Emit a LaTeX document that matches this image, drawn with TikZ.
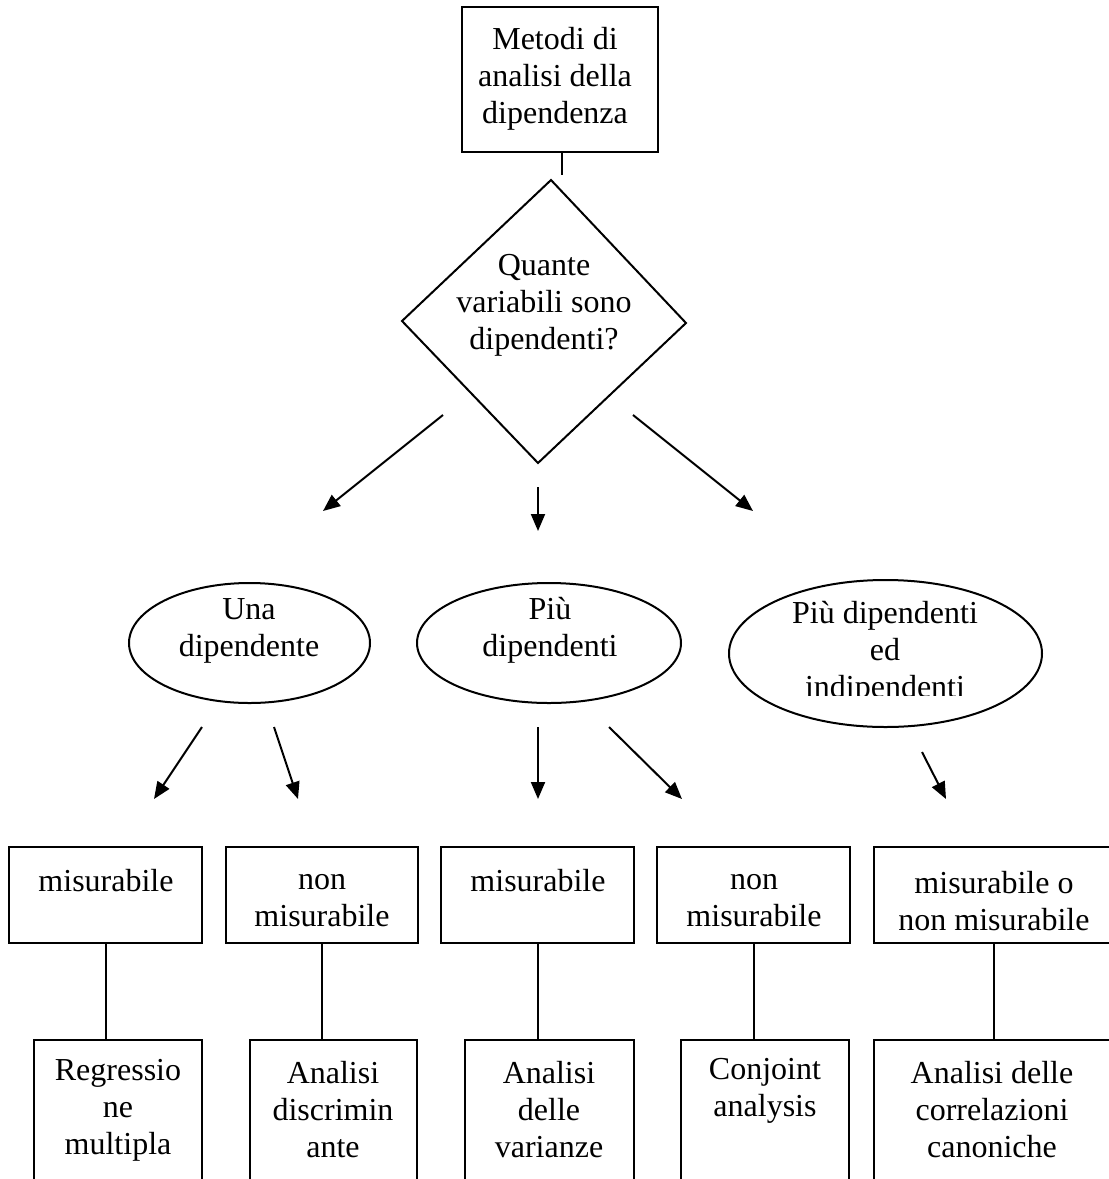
\documentclass[tikz,border=0pt]{standalone}
\usepackage{fontspec}
\setmainfont{Liberation Serif}
\usetikzlibrary{arrows.meta,shapes.geometric}
\begin{document}
\begin{tikzpicture}[x=1pt,y=-1pt,
  every node/.style={font=\fontsize{32}{37}\selectfont, inner sep=0pt},
  line/.style={line width=2pt},
  frame/.style={draw, line width=2pt, rectangle, inner sep=0pt},
  oval/.style={draw, line width=2pt, ellipse, inner sep=0pt},
  txt/.style={align=center},
  arr/.style={line width=2pt, -{Triangle[length=17pt,width=14pt]}}]
\useasboundingbox (0,0) rectangle (1109,1179);

% top box
\node[frame, minimum width=196, minimum height=145] (top) at (560,79.5) {};
\node[txt] (ttop) at (555,79) {Metodi di\\analisi della\\dipendenza};
\coordinate (tl) at (562,175);
\draw[line] (top.south -| tl) -- (tl);

% decision diamond
\coordinate (dT) at (551,180);
\coordinate (dR) at (686,323);
\coordinate (dB) at (538,463);
\coordinate (dL) at (402,321);
\draw[line, line join=miter] (dT) -- (dR) -- (dB) -- (dL) -- cycle;
\node[txt] (tq) at (544,305) {Quante\\variabili sono\\dipendenti?};

% arrows below the diamond
\coordinate (a1s) at (443,415); \coordinate (a1e) at (323,511);
\coordinate (a2s) at (538,487); \coordinate (a2e) at (538,531);
\coordinate (a3s) at (633,415); \coordinate (a3e) at (753,511);
\draw[arr] (a1s) -- (a1e);
\draw[arr] (a2s) -- (a2e);
\draw[arr] (a3s) -- (a3e);

% ellipses
\node[oval, minimum width=241, minimum height=120] (e1) at (249.5,643) {};
\node[txt] (te1) at (249,630.5) {Una\\dipendente};
\node[oval, minimum width=264, minimum height=120] (e2) at (549,643) {};
\node[txt] (te2) at (550,630.5) {Più\\dipendenti};
\node[oval, minimum width=313, minimum height=147] (e3) at (885.5,653.5) {};
\begin{scope}
  \clip (700,570) rectangle (1070,695);
  \node[txt] (te3) at (885,653) {Più dipendenti\\ed\\indipendenti};
\end{scope}

% arrows below the ellipses
\coordinate (b1s) at (202,727); \coordinate (b1e) at (154,799);
\coordinate (b2s) at (274,727); \coordinate (b2e) at (298,799);
\coordinate (b3s) at (538,727); \coordinate (b3e) at (538,799);
\coordinate (b4s) at (609,727); \coordinate (b4e) at (682,799);
\coordinate (b5s) at (922,752); \coordinate (b5e) at (946,799);
\foreach \i in {1,...,5} {\draw[arr] (b\i s) -- (b\i e);}

% first row of boxes
\node[frame, minimum width=193, minimum height=96] (B1) at (105.5,895) {};
\node[frame, minimum width=192, minimum height=96] (B2) at (322,895) {};
\node[frame, minimum width=193, minimum height=96] (B3) at (537.5,895) {};
\node[frame, minimum width=193, minimum height=96] (B4) at (753.5,895) {};
\node[frame, minimum width=240, minimum height=96] (B5) at (994,895) {};
\node (tB1) at (106,881) {misurabile};
\node[txt] (tB2) at (322,901) {non\\misurabile};
\node (tB3) at (538,881) {misurabile};
\node[txt] (tB4) at (754,901) {non\\misurabile};
\node[txt] (tB5) at (994,901) {misurabile o\\non misurabile};

% second row of boxes (open at the bottom of the page)
\node[frame, minimum width=168, minimum height=180] (C1) at (118,1130) {};
\node[frame, minimum width=167, minimum height=180] (C2) at (333.5,1130) {};
\node[frame, minimum width=169, minimum height=180] (C3) at (549.5,1130) {};
\node[frame, minimum width=168, minimum height=180] (C4) at (765,1130) {};
\node[frame, minimum width=240, minimum height=180] (C5) at (994,1130) {};
\node[txt] (tC1) at (118,1110) {Regressio\\ne\\multipla};
\node[txt] (tC2) at (333,1110) {Analisi\\discrimin\\ante};
\node[txt] (tC3) at (549,1110) {Analisi\\delle\\varianze};
\node[txt] (tC4) at (765,1091) {Conjoint\\analysis};
\node[txt] (tC5) at (992,1110) {Analisi delle\\correlazioni\\canoniche};

% links between the two rows
\foreach \i in {1,...,5} {\draw[line] (B\i.south) -- (B\i.south |- C\i.north);}
\end{tikzpicture}
\end{document}
